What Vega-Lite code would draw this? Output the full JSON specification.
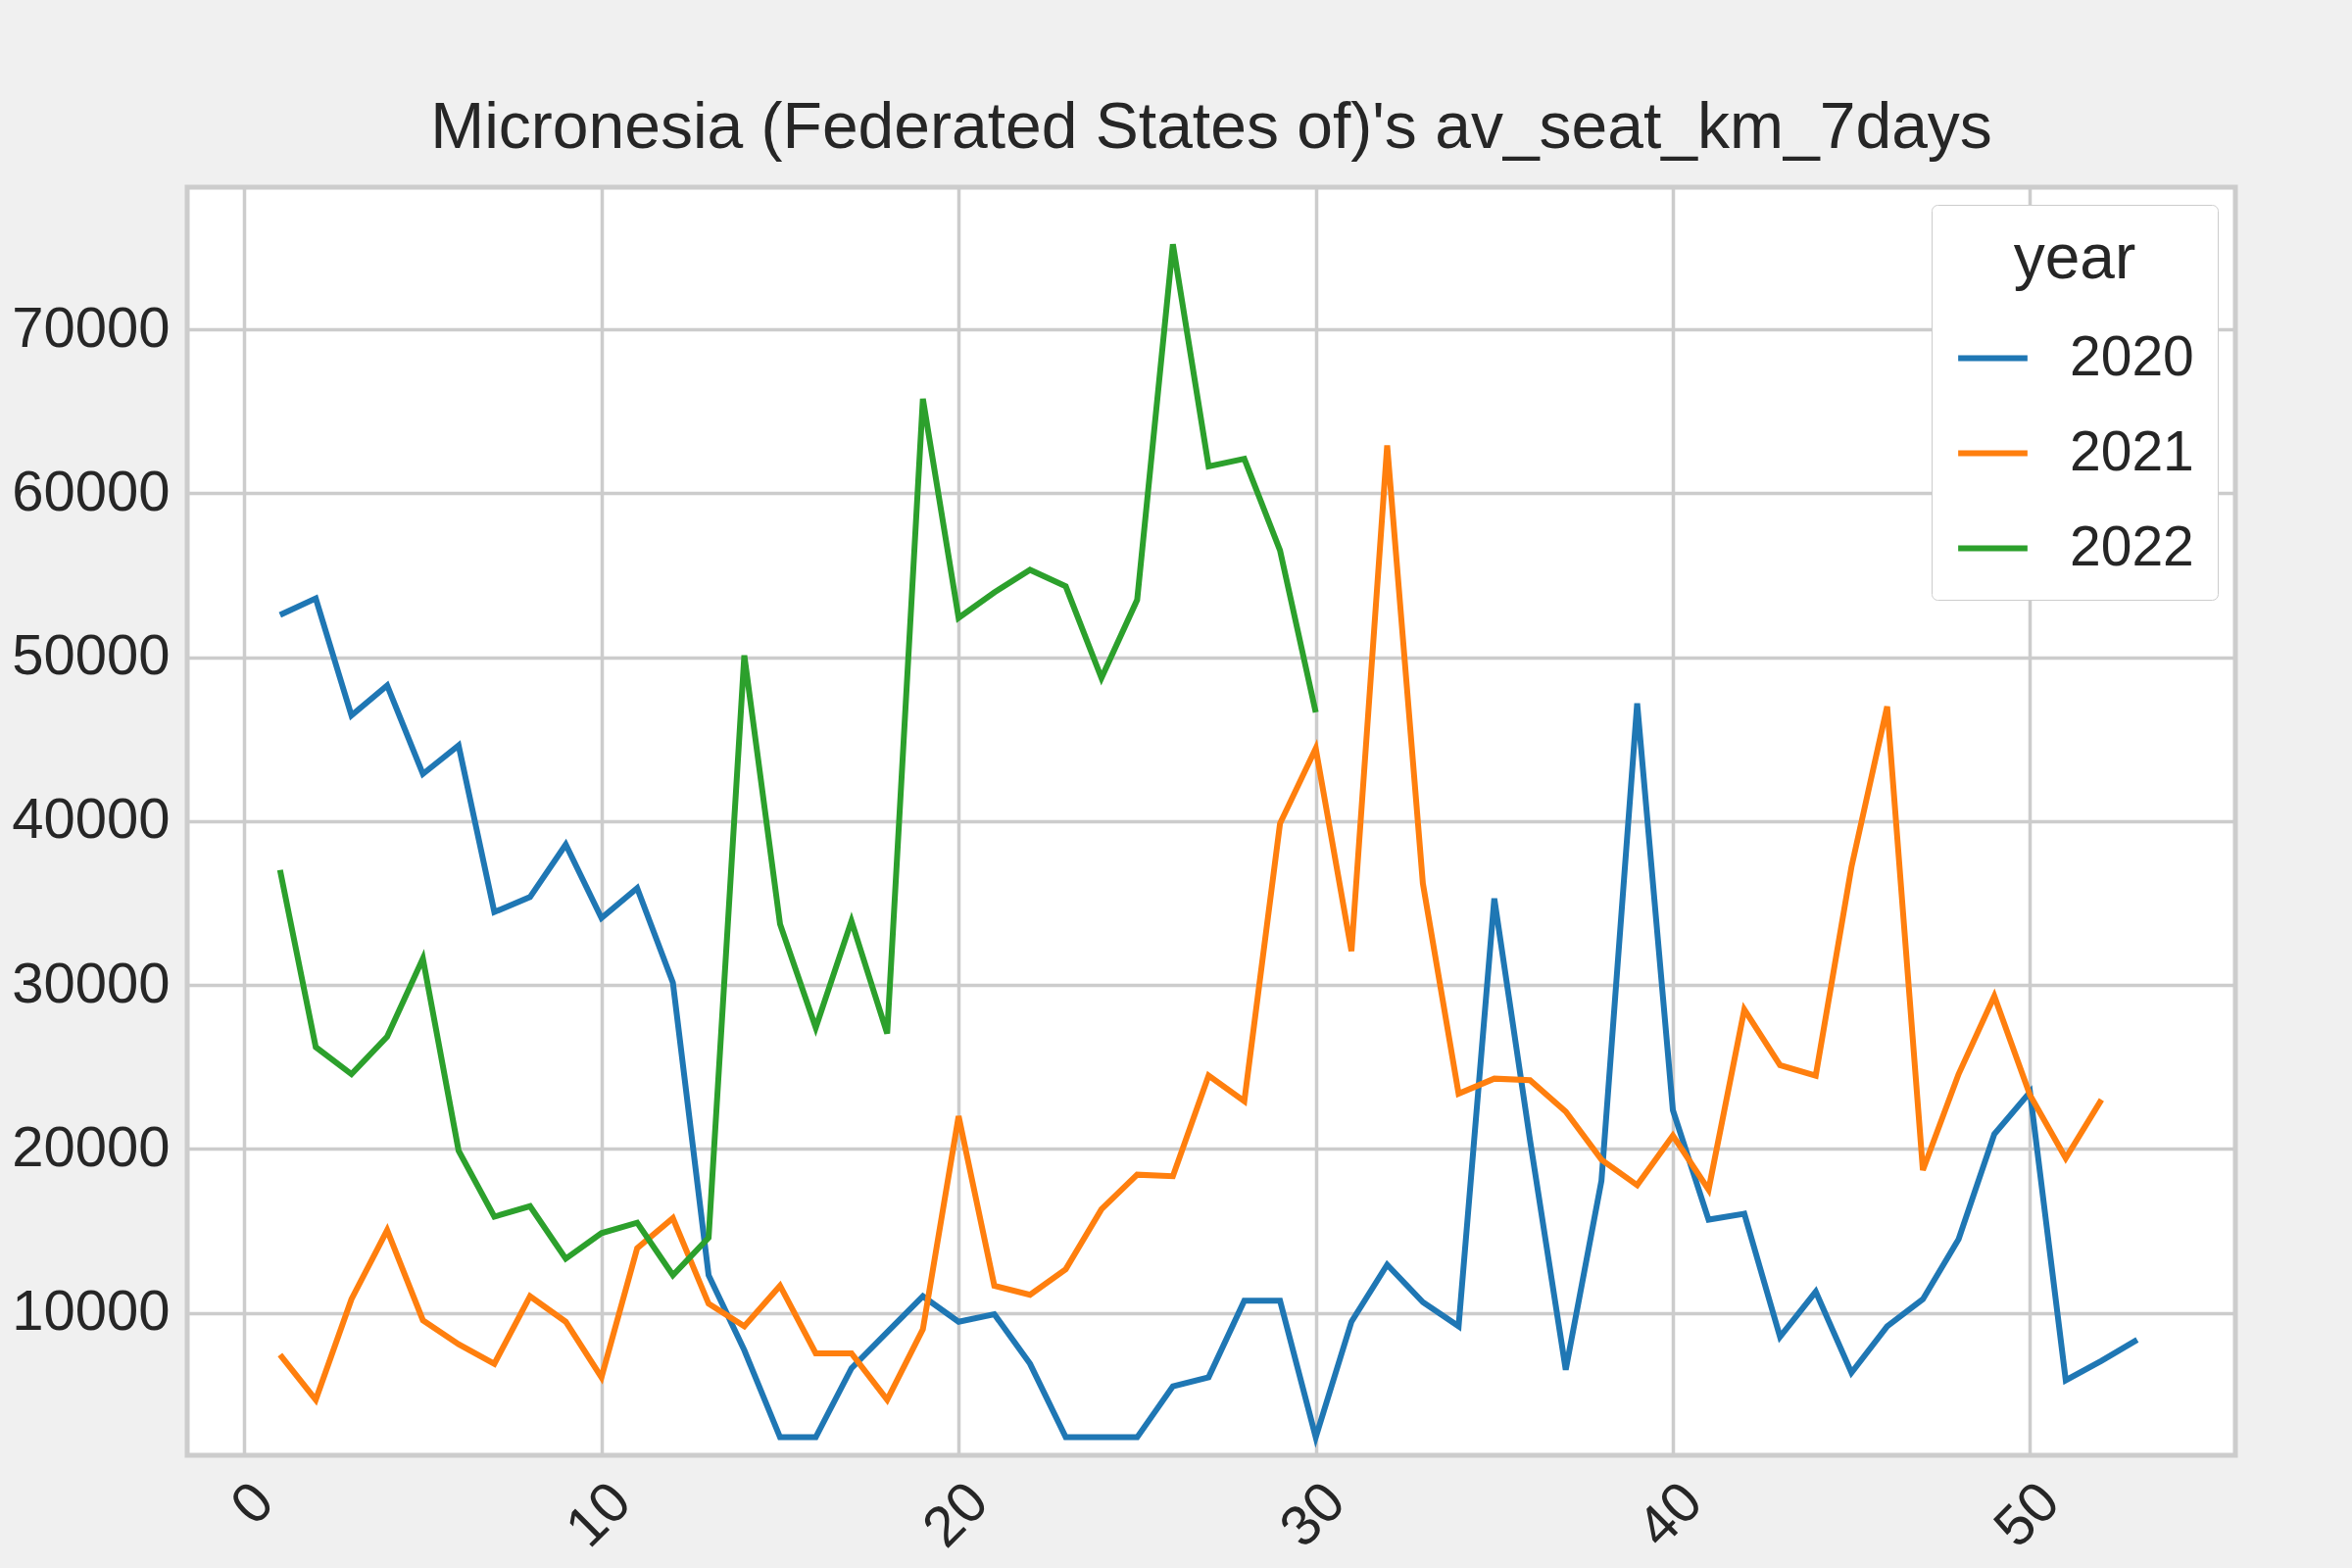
{
  "$schema": "https://vega.github.io/schema/vega-lite/v6.json",
  "autosize": "none",
  "width": 2090,
  "height": 1294,
  "padding": {"left": 191, "top": 191, "right": 119, "bottom": 115},
  "background": "#f0f0f0",
  "title": {"text": "Micronesia (Federated States of)'s av_seat_km_7days", "fontSize": 66, "font": "Liberation Sans", "fontWeight": "normal", "color": "#262626", "offset": 26},
  "data": {"values": [
    {"week":1,"year":"2020","v":52585},{"week":2,"year":"2020","v":53592},{"week":3,"year":"2020","v":46449},{"week":4,"year":"2020","v":48280},{"week":5,"year":"2020","v":42877},{"week":6,"year":"2020","v":44617},{"week":7,"year":"2020","v":34452},{"week":8,"year":"2020","v":35368},{"week":9,"year":"2020","v":38573},{"week":10,"year":"2020","v":34086},{"week":11,"year":"2020","v":35917},{"week":12,"year":"2020","v":30148},{"week":13,"year":"2020","v":12290},{"week":14,"year":"2020","v":7710},{"week":15,"year":"2020","v":2399},{"week":16,"year":"2020","v":2399},{"week":17,"year":"2020","v":6612},{"week":18,"year":"2020","v":8809},{"week":19,"year":"2020","v":11007},{"week":20,"year":"2020","v":9451},{"week":21,"year":"2020","v":9908},{"week":22,"year":"2020","v":6886},{"week":23,"year":"2020","v":2399},{"week":24,"year":"2020","v":2399},{"week":25,"year":"2020","v":2399},{"week":26,"year":"2020","v":5513},{"week":27,"year":"2020","v":6062},{"week":28,"year":"2020","v":10733},{"week":29,"year":"2020","v":10733},{"week":30,"year":"2020","v":2399},{"week":31,"year":"2020","v":9451},{"week":32,"year":"2020","v":12931},{"week":33,"year":"2020","v":10641},{"week":34,"year":"2020","v":9176},{"week":35,"year":"2020","v":35276},{"week":36,"year":"2020","v":20532},{"week":37,"year":"2020","v":6520},{"week":38,"year":"2020","v":18059},{"week":39,"year":"2020","v":47181},{"week":40,"year":"2020","v":22363},{"week":41,"year":"2020","v":15678},{"week":42,"year":"2020","v":16044},{"week":43,"year":"2020","v":8535},{"week":44,"year":"2020","v":11282},{"week":45,"year":"2020","v":6337},{"week":46,"year":"2020","v":9176},{"week":47,"year":"2020","v":10824},{"week":48,"year":"2020","v":14487},{"week":49,"year":"2020","v":20898},{"week":50,"year":"2020","v":23462},{"week":51,"year":"2020","v":5879},{"week":52,"year":"2020","v":7069},{"week":53,"year":"2020","v":8352},
    {"week":1,"year":"2021","v":7436},{"week":2,"year":"2021","v":4688},{"week":3,"year":"2021","v":10824},{"week":4,"year":"2021","v":15037},{"week":5,"year":"2021","v":9542},{"week":6,"year":"2021","v":8077},{"week":7,"year":"2021","v":6886},{"week":8,"year":"2021","v":11007},{"week":9,"year":"2021","v":9451},{"week":10,"year":"2021","v":6062},{"week":11,"year":"2021","v":13938},{"week":12,"year":"2021","v":15770},{"week":13,"year":"2021","v":10549},{"week":14,"year":"2021","v":9176},{"week":15,"year":"2021","v":11648},{"week":16,"year":"2021","v":7527},{"week":17,"year":"2021","v":7527},{"week":18,"year":"2021","v":4688},{"week":19,"year":"2021","v":8992},{"week":20,"year":"2021","v":21997},{"week":21,"year":"2021","v":11648},{"week":22,"year":"2021","v":11099},{"week":23,"year":"2021","v":12656},{"week":24,"year":"2021","v":16319},{"week":25,"year":"2021","v":18425},{"week":26,"year":"2021","v":18334},{"week":27,"year":"2021","v":24470},{"week":28,"year":"2021","v":22913},{"week":29,"year":"2021","v":39855},{"week":30,"year":"2021","v":44434},{"week":31,"year":"2021","v":32071},{"week":32,"year":"2021","v":62933},{"week":33,"year":"2021","v":36192},{"week":34,"year":"2021","v":23371},{"week":35,"year":"2021","v":24286},{"week":36,"year":"2021","v":24195},{"week":37,"year":"2021","v":22272},{"week":38,"year":"2021","v":19341},{"week":39,"year":"2021","v":17784},{"week":40,"year":"2021","v":20806},{"week":41,"year":"2021","v":17510},{"week":42,"year":"2021","v":28499},{"week":43,"year":"2021","v":25111},{"week":44,"year":"2021","v":24470},{"week":45,"year":"2021","v":37199},{"week":46,"year":"2021","v":46998},{"week":47,"year":"2021","v":18700},{"week":48,"year":"2021","v":24561},{"week":49,"year":"2021","v":29323},{"week":50,"year":"2021","v":23279},{"week":51,"year":"2021","v":19433},{"week":52,"year":"2021","v":23004},
    {"week":1,"year":"2022","v":37016},{"week":2,"year":"2022","v":26210},{"week":3,"year":"2022","v":24561},{"week":4,"year":"2022","v":26851},{"week":5,"year":"2022","v":31613},{"week":6,"year":"2022","v":19891},{"week":7,"year":"2022","v":15861},{"week":8,"year":"2022","v":16502},{"week":9,"year":"2022","v":13297},{"week":10,"year":"2022","v":14854},{"week":11,"year":"2022","v":15495},{"week":12,"year":"2022","v":12290},{"week":13,"year":"2022","v":14579},{"week":14,"year":"2022","v":50112},{"week":15,"year":"2022","v":33719},{"week":16,"year":"2022","v":27400},{"week":17,"year":"2022","v":33902},{"week":18,"year":"2022","v":27034},{"week":19,"year":"2022","v":65772},{"week":20,"year":"2022","v":52402},{"week":21,"year":"2022","v":53958},{"week":22,"year":"2022","v":55332},{"week":23,"year":"2022","v":54325},{"week":24,"year":"2022","v":48738},{"week":25,"year":"2022","v":53501},{"week":26,"year":"2022","v":75205},{"week":27,"year":"2022","v":61651},{"week":28,"year":"2022","v":62109},{"week":29,"year":"2022","v":56523},{"week":30,"year":"2022","v":46632}
  ]},
  "mark": {"type": "line", "strokeWidth": 6},
  "encoding": {
    "x": {"field": "week", "type": "quantitative", "scale": {"domain": [-1.6, 55.75], "nice": false, "zero": false},
      "axis": {"values": [0, 10, 20, 30, 40, 50], "title": null, "labelAngle": -45, "labelAlign": "right", "labelBaseline": "top"}},
    "y": {"field": "v", "type": "quantitative", "scale": {"domain": [1300, 78685], "nice": false, "zero": false},
      "axis": {"values": [10000, 20000, 30000, 40000, 50000, 60000, 70000], "title": null, "format": "d"}},
    "color": {"field": "year", "type": "nominal", "scale": {"range": ["#1f77b4", "#ff7f0e", "#2ca02c"]},
      "legend": {"orient": "top-right", "offsetX": 30, "offsetY": 30, "title": "year", "titleAlign": "center", "titleAnchor": "middle", "symbolType": "stroke", "symbolStrokeWidth": 6, "symbolSize": 5000, "labelFontSize": 57, "titleFontSize": 64, "titleFontWeight": "normal", "fillColor": "white", "strokeColor": "#cccccc", "padding": 24, "cornerRadius": 6, "rowPadding": 30, "labelOffset": 40, "titlePadding": 30}}
  },
  "config": {
    "font": "Liberation Sans",
    "view": {"fill": "white", "stroke": "#cccccc", "strokeWidth": 5},
    "axis": {"grid": true, "gridColor": "#cccccc", "gridWidth": 3.5, "domain": false, "ticks": false, "labelFontSize": 58, "labelColor": "#262626", "labelPadding": 18},
    "legend": {"labelColor": "#262626", "titleColor": "#262626", "labelFont": "Liberation Sans", "titleFont": "Liberation Sans"}
  }
}
